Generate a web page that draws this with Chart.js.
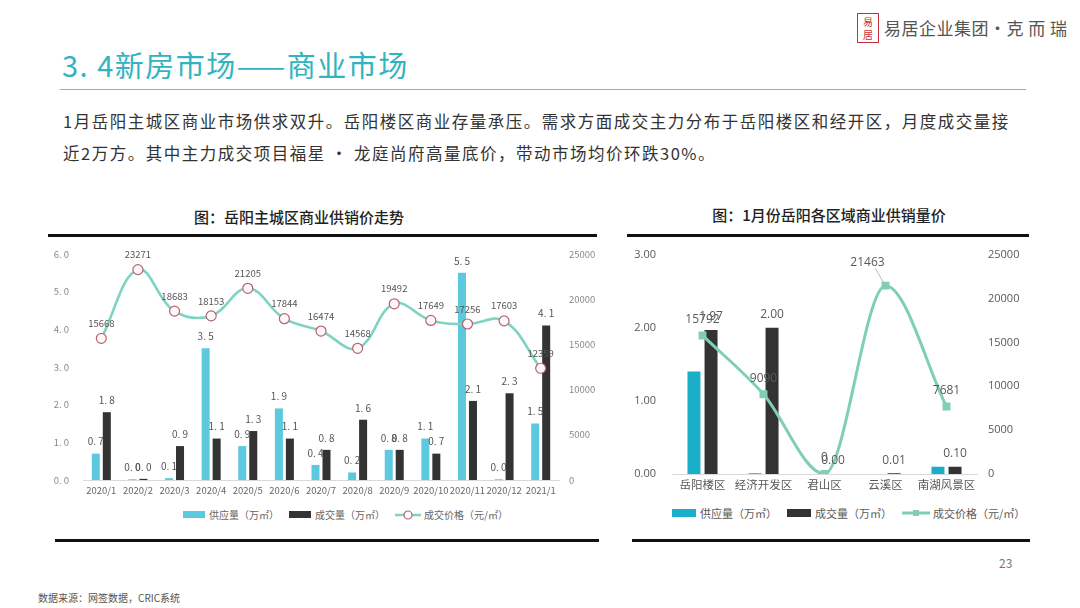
<!DOCTYPE html>
<html><head><meta charset="utf-8">
<script src="https://cdn.jsdelivr.net/npm/chart.js@4.4.1/dist/chart.umd.min.js"></script>
<style>
html,body{margin:0;padding:0;background:#fff;width:1080px;height:608px;overflow:hidden;font-family:"Noto Sans CJK SC","Noto Sans",sans-serif;}
.abs{position:absolute;white-space:nowrap;}
#title{left:62px;top:43px;font-size:29px;color:#33b3c0;letter-spacing:1.5px;}
#rule{left:60px;top:89px;width:966px;height:1px;background:#a8a8a8;}
.para{left:63px;font-size:16.5px;color:#333;letter-spacing:1.5px;}
.ctitle{font-size:15px;color:#222;font-weight:500;transform:translateX(-50%);}
.bar{height:3px;background:#111;}
.legend{font-size:10px;color:#666;display:flex;align-items:center;}
.legend span.box{display:inline-block;width:22px;height:7px;margin-right:4px;}
.legend .item{display:flex;align-items:center;margin-right:10px;}
</style></head>
<body>
<div class="abs" style="left:857px;top:13px;width:22px;height:30px;border:1.5px solid #c8313a;color:#c8313a;font-size:10px;line-height:13px;text-align:center;box-sizing:border-box;padding-top:1px;">易<br>居</div>
<div class="abs" style="left:884px;top:15px;font-size:17px;color:#555;letter-spacing:0.5px;">易居企业集团·克 而 瑞</div>
<div class="abs" id="title">3. 4新房市场——商业市场</div>
<div class="abs" id="rule"></div>
<div class="abs para" style="top:109px;">1月岳阳主城区商业市场供求双升。岳阳楼区商业存量承压。需求方面成交主力分布于岳阳楼区和经开区，月度成交量接</div>
<div class="abs para" style="top:141px;">近2万方。其中主力成交项目福星 · 龙庭尚府高量底价，带动市场均价环跌30%。</div>

<div class="abs ctitle" style="left:299px;top:206px;">图：岳阳主城区商业供销价走势</div>
<div class="abs ctitle" style="left:829px;top:204px;">图：1月份岳阳各区域商业供销量价</div>
<div class="abs bar" style="left:48px;top:234px;width:549px;"></div>
<div class="abs bar" style="left:627px;top:234px;width:402px;"></div>
<div class="abs bar" style="left:55px;top:539px;width:544px;"></div>
<div class="abs bar" style="left:632px;top:539px;width:398px;"></div>

<canvas id="c1" class="abs" style="left:40px;top:240px;"></canvas>
<canvas id="c2" class="abs" style="left:628px;top:240px;"></canvas>

<div class="abs legend" style="left:183px;top:507px;">
  <div class="item"><span class="box" style="background:#5cc9de"></span>供应量（万㎡）</div>
  <div class="item"><span class="box" style="background:#333"></span>成交量（万㎡）</div>
  <div class="item"><svg width="26" height="12" style="margin-right:3px"><line x1="0" y1="6" x2="26" y2="6" stroke="#7fd3c2" stroke-width="2.5"/><circle cx="13" cy="6" r="4" fill="#fff" stroke="#b5636f" stroke-width="1.2"/></svg>成交价格（元/㎡）</div>
</div>
<div class="abs legend" style="left:672px;top:505px;font-size:11px;color:#595959;">
  <div class="item"><span class="box" style="background:#1aafc9;width:24px;height:8px"></span>供应量（万㎡）</div>
  <div class="item"><span class="box" style="background:#333;width:24px;height:8px"></span>成交量（万㎡）</div>
  <div class="item"><svg width="28" height="12" style="margin-right:3px"><line x1="0" y1="6" x2="28" y2="6" stroke="#80cfb3" stroke-width="3"/><rect x="11" y="3" width="6" height="6" fill="#80cfb3"/></svg>成交价格（元/㎡）</div>
</div>

<div class="abs" style="left:999px;top:554px;font-size:12px;color:#777;">23</div>
<div class="abs" style="left:38px;top:590px;font-size:10px;color:#555;">数据来源：网签数据，CRIC系统</div>

<script>
// ---- Left chart data ----
const months = ['2020/1','2020/2','2020/3','2020/4','2020/5','2020/6','2020/7','2020/8','2020/9','2020/10','2020/11','2020/12','2021/1'];
const supplyMonthly = [0.7,0.02,0.05,3.5,0.9,1.9,0.4,0.2,0.8,1.1,5.5,0.02,1.5];
const supplyMonthlyLabels = ['0.7','0.0','0.1','3.5','0.9','1.9','0.4','0.2','0.8','1.1','5.5','0.0','1.5'];
const dealMonthly = [1.8,0.03,0.9,1.1,1.3,1.1,0.8,1.6,0.8,0.7,2.1,2.3,4.1];
const dealMonthlyLabels = ['1.8','0.0','0.9','1.1','1.3','1.1','0.8','1.6','0.8','0.7','2.1','2.3','4.1'];
const priceMonthly = [15668,23271,18683,18153,21205,17844,16474,14568,19492,17649,17256,17603,12359];
const leftAxisTicks = [0,1,2,3,4,5,6];
const rightAxisTicks = [0,5000,10000,15000,20000,25000];

// ---- Right chart data ----
const districts = ['岳阳楼区','经济开发区','君山区','云溪区','南湖风景区'];
const supplyDistrict = [1.40,0.01,0,0,0.10];
const dealDistrict = [1.97,2.00,0.00,0.01,0.10];
const priceDistrict = [15792,9090,0,21463,7681];
const rightLeftTicks = [0,1,2,3];

const spaced = s => s.replace('.', '. ');

const labelPlugin = {
  id: 'vlabels',
  afterDatasetsDraw(chart) {
    const ctx = chart.ctx;
    ctx.save();
    chart.data.datasets.forEach((ds, di) => {
      if (!ds.labels) return;
      const meta = chart.getDatasetMeta(di);
      meta.data.forEach((el, i) => {
        const txt = ds.labels[i];
        if (txt === null || txt === undefined) return;
        let x = el.x, y = el.y - ds.labelOffset;
        ctx.font = ds.labelFont;
        ctx.fillStyle = ds.labelColor;
        ctx.textAlign = 'center';
        ctx.textBaseline = 'middle';
        if (ds.leader && ds.leader[i]) {
          const [dx, dy] = ds.leader[i];
          ctx.strokeStyle = '#aaa'; ctx.lineWidth = 0.8;
          ctx.beginPath(); ctx.moveTo(el.x - 2, el.y - 3); ctx.lineTo(el.x + dx + 8, el.y + dy + 6); ctx.stroke();
          x = el.x + dx; y = el.y + dy;
        }
        ctx.fillText(txt, x, y);
      });
    });
    ctx.restore();
  }
};

function fixW(w){ return s => { s.width = w; }; }
function fixH(h){ return s => { s.height = h; }; }

const c1 = document.getElementById('c1');
c1.width = 560; c1.height = 262;
new Chart(c1, {
  data: {
    labels: months,
    datasets: [
      { type:'line', label:'成交价格（元/㎡）', data: priceMonthly, yAxisID:'y1', order:0,
        borderColor:'#7fd3c2', borderWidth:2.6, tension:0.4,
        pointRadius:5, pointBackgroundColor:'#fff8f8', pointBorderColor:'#b5636f', pointBorderWidth:1.2,
        labels: priceMonthly.map(String), labelOffset:15, labelFont:'9.5px "Noto Sans CJK SC"', labelColor:'#555' },
      { type:'bar', label:'供应量（万㎡）', data: supplyMonthly, yAxisID:'y', order:1,
        backgroundColor:'#5cc9de', categoryPercentage:0.6, barPercentage:0.73,
        labels: supplyMonthlyLabels.map(spaced), labelOffset:12, labelFont:'10px "Noto Sans CJK SC"', labelColor:'#555' },
      { type:'bar', label:'成交量（万㎡）', data: dealMonthly, yAxisID:'y', order:2,
        backgroundColor:'#333333', categoryPercentage:0.6, barPercentage:0.73,
        labels: dealMonthlyLabels.map(spaced), labelOffset:12, labelFont:'10px "Noto Sans CJK SC"', labelColor:'#555' }
    ]
  },
  options: {
    responsive:false, animation:false,
    layout:{ padding:{ top:14, left:0, right:0, bottom:0 } },
    plugins:{ legend:{display:false}, tooltip:{enabled:false} },
    scales:{
      x:{ grid:{display:false, drawTicks:false}, border:{color:'#d9d9d9'},
          ticks:{ font:{size:9.5, family:'"Noto Sans CJK SC"'}, color:'#666', padding:5, maxRotation:0, autoSkip:false },
          afterFit: fixH(22) },
      y:{ position:'left', min:0, max:6, grid:{display:false}, border:{display:false},
          afterBuildTicks: s => { s.ticks = leftAxisTicks.map(v => ({value:v})); },
          ticks:{ font:{size:9.5, family:'"Noto Sans CJK SC"'}, color:'#888', padding:6, callback: v => spaced(v.toFixed(1)) },
          afterFit: fixW(43) },
      y1:{ position:'right', min:0, max:25000, grid:{display:false}, border:{display:false},
          afterBuildTicks: s => { s.ticks = rightAxisTicks.map(v => ({value:v})); },
          ticks:{ font:{size:9.5, family:'"Noto Sans CJK SC"'}, color:'#888', padding:2, callback: v => String(v) },
          afterFit: fixW(41) }
    }
  },
  plugins:[labelPlugin]
});

const c2 = document.getElementById('c2');
c2.width = 405; c2.height = 257;
new Chart(c2, {
  data: {
    labels: districts,
    datasets: [
      { type:'line', label:'成交价格（元/㎡）', data: priceDistrict, yAxisID:'y1', order:0,
        borderColor:'#80cfb3', borderWidth:3, cubicInterpolationMode:'monotone',
        pointStyle:'rect', pointRadius:3.5, pointBackgroundColor:'#80cfb3', pointBorderColor:'#80cfb3',
        labels: priceDistrict.map(String), labelOffset:16, labelFont:'12px "Open Sans","Liberation Sans"', labelColor:'#595959',
        leader: [null,null,null,[-18,-23],null] },
      { type:'bar', label:'供应量（万㎡）', data: supplyDistrict, yAxisID:'y', order:1,
        backgroundColor:'#1aafc9', categoryPercentage:0.56, barPercentage:0.76 },
      { type:'bar', label:'成交量（万㎡）', data: dealDistrict, yAxisID:'y', order:2,
        backgroundColor:'#333333', categoryPercentage:0.56, barPercentage:0.76,
        labels: dealDistrict.map(v => v.toFixed(2)), labelOffset:13, labelFont:'12px "Open Sans","Liberation Sans"', labelColor:'#595959' }
    ]
  },
  options: {
    responsive:false, animation:false,
    layout:{ padding:{ top:14, left:0, right:0, bottom:0 } },
    plugins:{ legend:{display:false}, tooltip:{enabled:false} },
    scales:{
      x:{ grid:{display:false, drawTicks:false}, border:{color:'#d9d9d9'},
          ticks:{ font:{size:11.5, family:'"Noto Sans CJK SC"'}, color:'#595959', padding:4, maxRotation:0, autoSkip:false },
          afterFit: fixH(23) },
      y:{ position:'left', min:0, max:3, grid:{display:false}, border:{display:false},
          afterBuildTicks: s => { s.ticks = rightLeftTicks.map(v => ({value:v})); },
          ticks:{ font:{size:11, family:'"Open Sans","Liberation Sans"'}, color:'#595959', padding:8, callback: v => v.toFixed(2) },
          afterFit: fixW(44) },
      y1:{ position:'right', min:0, max:25000, grid:{display:false}, border:{display:false},
          afterBuildTicks: s => { s.ticks = rightAxisTicks.map(v => ({value:v})); },
          ticks:{ font:{size:11, family:'"Open Sans","Liberation Sans"'}, color:'#595959', padding:3, callback: v => String(v) },
          afterFit: fixW(56) }
    }
  },
  plugins:[labelPlugin]
});
</script>
</body></html>
